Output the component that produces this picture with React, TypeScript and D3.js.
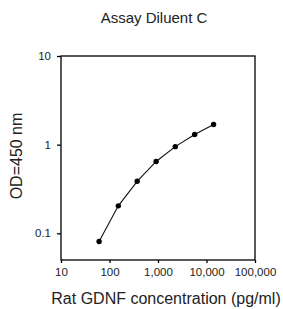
import React, { useEffect, useRef } from "react";
import * as d3 from "d3";

// standard curve
const concentration = [61, 152, 372, 915, 2270, 5700, 14000];
const od = [0.081, 0.204, 0.386, 0.646, 0.95, 1.3, 1.69];
const xTicks = [10, 100, 1000, 10000, 100000];
const yTicks = [0.1, 1, 10];

const App = () => {
  const ref = useRef<SVGSVGElement>(null);

  useEffect(() => {
    const svg = d3.select(ref.current);
    svg.selectAll("*").remove();
    const left = 61;
    const right = 255;
    const top = 56;
    const bottom = 260;
    const font = "Arial, 'Liberation Sans', sans-serif";

    const x = d3.scaleLog().domain([10, 100000]).range([left, right]);
    const y = d3.scaleLog().domain([0.05, 10]).range([bottom, top]);

    // frame
    svg
      .append("rect")
      .attr("x", left)
      .attr("y", top)
      .attr("width", right - left)
      .attr("height", bottom - top)
      .attr("fill", "none")
      .attr("stroke", "#000")
      .attr("stroke-width", 1.3);

    const xAxis = d3
      .axisBottom(x)
      .tickValues(xTicks)
      .tickSize(3)
      .tickFormat((d) => d3.format(",")(d as number));
    const gx = svg
      .append("g")
      .attr("transform", `translate(0, ${bottom})`)
      .call(xAxis);
    gx.select(".domain").remove();
    gx.selectAll("line").attr("stroke-width", 1.3);
    gx.selectAll("text")
      .attr("font-family", font)
      .attr("font-size", "11.5px")
      .attr("fill", "#222")
      .attr("y", 7)
      .attr("dy", "0.75em");

    const yAxis = d3
      .axisLeft(y)
      .tickValues(yTicks)
      .tickSize(4)
      .tickFormat((d) => String(d));
    const gy = svg
      .append("g")
      .attr("transform", `translate(${left}, 0)`)
      .call(yAxis);
    gy.select(".domain").remove();
    gy.selectAll("line").attr("stroke-width", 1.3);
    gy.selectAll("text")
      .attr("font-family", font)
      .attr("font-size", "11.5px")
      .attr("fill", "#222")
      .attr("x", -10);

    const pts = concentration.map((c, i) => [c, od[i]] as [number, number]);
    const line = d3
      .line<[number, number]>()
      .x((d) => x(d[0]))
      .y((d) => y(d[1]));

    svg
      .append("path")
      .attr("d", line(pts))
      .attr("fill", "none")
      .attr("stroke", "#111")
      .attr("stroke-width", 1.1);

    svg
      .selectAll("circle.pt")
      .data(pts)
      .join("circle")
      .attr("class", "pt")
      .attr("cx", (d) => x(d[0]))
      .attr("cy", (d) => y(d[1]))
      .attr("r", 2.7)
      .attr("fill", "#000");

    svg
      .append("text")
      .text("Assay Diluent C")
      .attr("x", 154)
      .attr("y", 23)
      .attr("text-anchor", "middle")
      .attr("font-family", font)
      .attr("font-size", "15px")
      .attr("fill", "#222");

    svg
      .append("text")
      .text("OD=450 nm")
      .attr("transform", "translate(22, 156) rotate(-90)")
      .attr("text-anchor", "middle")
      .attr("font-family", font)
      .attr("font-size", "16px")
      .attr("fill", "#222");

    svg
      .append("text")
      .text("Rat GDNF concentration (pg/ml)")
      .attr("x", 166)
      .attr("y", 304)
      .attr("text-anchor", "middle")
      .attr("font-family", font)
      .attr("font-size", "16px")
      .attr("fill", "#222");
  });

  return (
    <svg
      ref={ref}
      width={283}
      height={309}
      style={{ position: "absolute", left: 0, top: 0, background: "#fff" }}
    ></svg>
  );
};

export default App;
